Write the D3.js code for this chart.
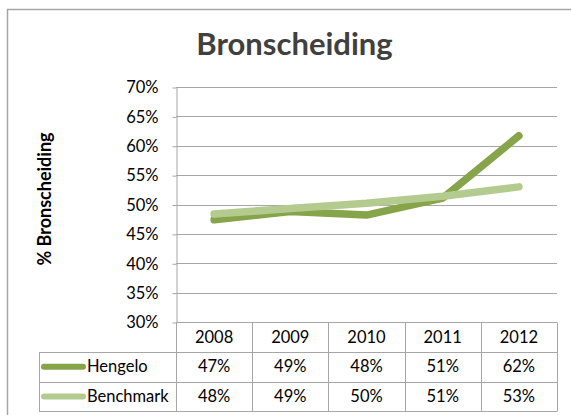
<!DOCTYPE html>
<html><head><meta charset="utf-8">
<script src="https://cdn.jsdelivr.net/npm/d3@7"></script>
<style>
html,body{margin:0;padding:0;background:#fff;overflow:hidden;}
svg{display:block;}
text{font-family:Lato,"Open Sans",sans-serif;}
</style></head><body>
<svg id="chart" width="571" height="415"></svg>
<script>
// ---- data ----
const categories = ["2008", "2009", "2010", "2011", "2012"];
const seriesNames = ["Hengelo", "Benchmark"];
const hengelo = [47.4, 48.8, 48.2, 51.1, 61.7];
const benchmark = [48.4, 49.3, 50.2, 51.4, 53.0];
const yTicks = [30, 35, 40, 45, 50, 55, 60, 65, 70];
const chartTitle = "Bronscheiding";
const yAxisTitle = "% Bronscheiding";

// ---- layout / style ----
const colors = ["#86A44A", "#B4CB8F"];
const gridColor = "#A6A6A6";
const plot = {left: 176, right: 557, top: 87, bottom: 322};
const tableLeft = 39;
const rowH = 29.8;

const svg = d3.select("#chart");

// outer chart border (extends beyond the visible window)
svg.append("rect")
  .attr("x", 7.5).attr("y", 9.5).attr("width", 700).attr("height", 500)
  .attr("fill", "#fff").attr("stroke", "#A6A6A6").attr("stroke-width", 1.5);

const x = d3.scaleBand().domain(categories).range([plot.left, plot.right]);
const y = d3.scaleLinear().domain([30, 70]).range([plot.bottom, plot.top]);

// gridlines
svg.append("g").selectAll("line").data(yTicks.filter(t => t > 30)).join("line")
  .attr("x1", plot.left).attr("x2", plot.right)
  .attr("y1", d => Math.round(y(d)) + 0.5).attr("y2", d => Math.round(y(d)) + 0.5)
  .attr("stroke", gridColor).attr("stroke-width", 1);

// y axis
const yAxis = svg.append("g")
  .attr("transform", `translate(${plot.left + 0.5},0.5)`)
  .call(d3.axisLeft(y).tickValues(yTicks).tickFormat(d => d + "%").tickSize(4).tickSizeOuter(0).tickPadding(14));
yAxis.select(".domain").attr("stroke", gridColor);
yAxis.selectAll(".tick line").attr("stroke", gridColor);
yAxis.selectAll(".tick text").attr("font-family", "Lato").attr("font-size", 16.5).attr("fill", "#000");

// lines
const line = d3.line()
  .x((d, i) => x(categories[i]) + x.bandwidth() / 2)
  .y(d => y(d));
const seriesData = [hengelo, benchmark];
svg.append("g").selectAll("path").data(seriesData).join("path")
  .attr("d", d => line(d))
  .attr("fill", "none")
  .attr("stroke", (d, i) => colors[i])
  .attr("stroke-width", 7.5)
  .attr("stroke-linecap", "round")
  .attr("stroke-linejoin", "round");

// data table
const tbl = svg.append("g");
const rowsY = [plot.bottom, plot.bottom + rowH, plot.bottom + 2 * rowH, plot.bottom + 3 * rowH];
const hl = (x1, x2, yy) => tbl.append("line").attr("x1", x1).attr("x2", x2)
  .attr("y1", Math.round(yy) + 0.5).attr("y2", Math.round(yy) + 0.5)
  .attr("stroke", gridColor);
const vl = (xx, y1, y2) => tbl.append("line").attr("x1", Math.round(xx) + 0.5).attr("x2", Math.round(xx) + 0.5)
  .attr("y1", Math.round(y1) + 0.5).attr("y2", Math.round(y2) + 0.5)
  .attr("stroke", gridColor);
hl(plot.left, plot.right, rowsY[0]);
for (let r = 1; r < 4; r++) hl(tableLeft, plot.right, rowsY[r]);
vl(tableLeft, rowsY[1], rowsY[3]);
vl(plot.left, rowsY[0], rowsY[3]);
categories.forEach(c => vl(x(c) + x.bandwidth(), rowsY[0], rowsY[3]));

// header row
tbl.selectAll("text.cat").data(categories).join("text")
  .attr("class", "cat")
  .attr("x", d => x(d) + x.bandwidth() / 2)
  .attr("y", (rowsY[0] + rowsY[1]) / 2)
  .attr("dy", "0.35em")
  .attr("text-anchor", "middle")
  .attr("font-size", 16.5)
  .text(d => d);

// series rows
seriesData.forEach((vals, si) => {
  const cy = (rowsY[si + 1] + rowsY[si + 2]) / 2;
  tbl.append("line")
    .attr("x1", tableLeft + 5).attr("x2", tableLeft + 44)
    .attr("y1", cy).attr("y2", cy)
    .attr("stroke", colors[si]).attr("stroke-width", 6).attr("stroke-linecap", "round");
  tbl.append("text")
    .attr("x", tableLeft + 48).attr("y", cy).attr("dy", "0.35em")
    .attr("font-size", 16.5).text(seriesNames[si]);
  tbl.selectAll(null).data(vals).join("text")
    .attr("x", (d, i) => x(categories[i]) + x.bandwidth() / 2)
    .attr("y", cy).attr("dy", "0.35em")
    .attr("text-anchor", "middle")
    .attr("font-size", 16.5)
    .text(d => Math.round(d) + "%");
});

// titles
svg.append("text")
  .attr("x", 294.5).attr("y", 55)
  .attr("text-anchor", "middle")
  .attr("font-size", 31).attr("font-weight", "bold")
  .attr("fill", "#404040")
  .text(chartTitle);

svg.append("text")
  .attr("transform", "translate(51,199) rotate(-90)")
  .attr("text-anchor", "middle")
  .attr("font-size", 18).attr("font-weight", "bold")
  .attr("fill", "#000")
  .text(yAxisTitle);
</script>
</body></html>
